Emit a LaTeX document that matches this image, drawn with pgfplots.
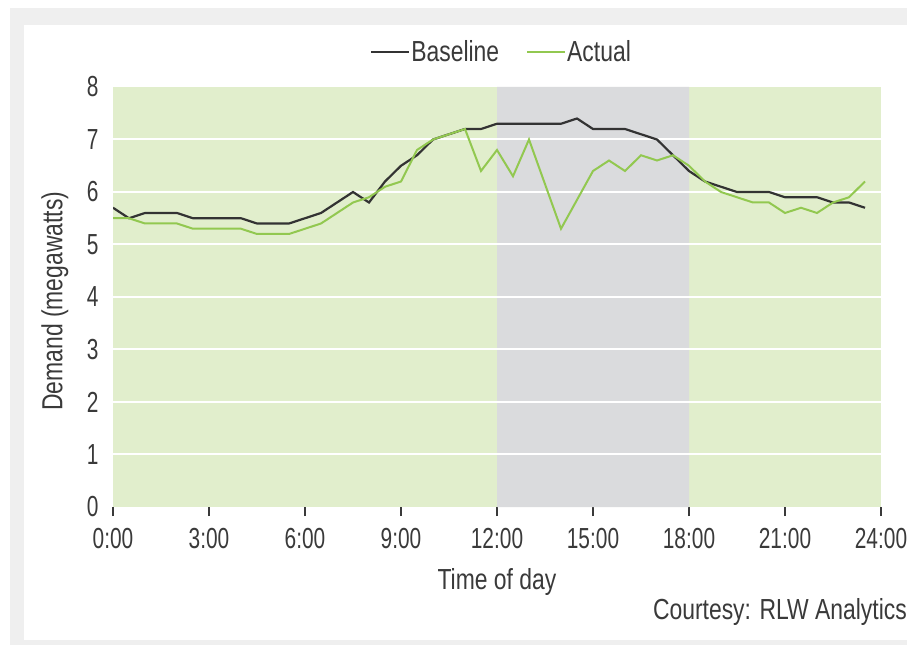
\documentclass[border=0pt]{standalone}
\usepackage{fontspec}
\setmainfont{Liberation Sans}[FakeStretch=0.79]
\newfontfamily\tickfont{Liberation Sans}[FakeStretch=0.72]
\usepackage{pgfplots}
\pgfplotsset{compat=1.18}
\definecolor{bggreen}{HTML}{E1EECC}
\definecolor{shade}{HTML}{DADBDD}
\definecolor{framegray}{HTML}{EFEFEF}
\definecolor{txt}{HTML}{3A3A3A}
\definecolor{base}{HTML}{333333}
\definecolor{act}{HTML}{92C850}
\newcommand\lbl{\fontsize{29bp}{32bp}\selectfont}

\begin{document}
\begin{tikzpicture}
\fill[white] (0bp,0bp) rectangle (907bp,645bp);
\fill[framegray] (10bp,0bp) rectangle (907bp,637bp);
\fill[white] (24bp,5bp) rectangle (907bp,620bp);
\begin{axis}[
  at={(113bp,138bp)}, anchor=south west,
  scale only axis, width=768bp, height=420bp,
  xmin=0, xmax=24, ymin=0, ymax=8,
  axis background/.style={fill=bggreen},
  axis line style={draw=none},
  tick pos=left, tick align=outside,
  major tick length=9bp,
  xtick={0,3,...,24},
  xticklabels={0:00,3:00,6:00,9:00,12:00,15:00,18:00,21:00,24:00},
  ytick={0,1,...,8},
  yticklabels={0,1,2,3,4,5,6,7,8},
  xtick style={draw=txt, line width=1.3bp},
  ytick style={draw=none},
  every tick label/.append style={font=\tickfont\lbl, text=txt},
  xticklabel style={yshift=-9bp},
  yticklabel style={xshift=-2bp},
  xlabel={Time of day},
  ylabel={Demand (megawatts)},
  every axis label/.append style={font=\lbl, text=txt},
  xlabel style={at={(axis description cs:0.5,0)}, anchor=center, yshift=-75bp},
  ylabel style={at={(axis description cs:0,0.49)}, anchor=center, yshift=58bp},
  legend style={at={(0.5,1)}, anchor=center, yshift=35bp, xshift=4bp,
    draw=none, fill=none, font=\lbl, text=txt, legend columns=2,
    /tikz/every even column/.append style={column sep=26bp},
    nodes={inner xsep=1bp, inner ysep=0bp}},
  legend image code/.code={\draw[#1] (0bp,0bp) -- (38bp,0bp);},
]
% peak window 12:00-18:00
\addplot[forget plot, fill=shade, draw=none]
  coordinates {(12,0) (12,8) (18,8) (18,0)} \closedcycle;
% white grid lines over the shading
\addplot[forget plot, white, line width=2bp] coordinates {(0,1) (24,1)};
\addplot[forget plot, white, line width=2bp] coordinates {(0,2) (24,2)};
\addplot[forget plot, white, line width=2bp] coordinates {(0,3) (24,3)};
\addplot[forget plot, white, line width=2bp] coordinates {(0,4) (24,4)};
\addplot[forget plot, white, line width=2bp] coordinates {(0,5) (24,5)};
\addplot[forget plot, white, line width=2bp] coordinates {(0,6) (24,6)};
\addplot[forget plot, white, line width=2bp] coordinates {(0,7) (24,7)};

\addplot[base, line width=2.2bp] coordinates {
  (0,5.7) (0.5,5.5) (1,5.6) (1.5,5.6) (2,5.6) (2.5,5.5) (3,5.5) (3.5,5.5)
  (4,5.5) (4.5,5.4) (5,5.4) (5.5,5.4) (6,5.5) (6.5,5.6) (7,5.8) (7.5,6.0)
  (8,5.8) (8.5,6.2) (9,6.5) (9.5,6.7) (10,7.0) (10.5,7.1) (11,7.2) (11.5,7.2)
  (12,7.3) (12.5,7.3) (13,7.3) (13.5,7.3) (14,7.3) (14.5,7.4) (15,7.2) (15.5,7.2)
  (16,7.2) (16.5,7.1) (17,7.0) (17.5,6.7) (18,6.4) (18.5,6.2) (19,6.1) (19.5,6.0)
  (20,6.0) (20.5,6.0) (21,5.9) (21.5,5.9) (22,5.9) (22.5,5.8) (23,5.8) (23.5,5.7)
};
\addlegendentry{Baseline}
\addplot[act, line width=2bp] coordinates {
  (0,5.5) (0.5,5.5) (1,5.4) (1.5,5.4) (2,5.4) (2.5,5.3) (3,5.3) (3.5,5.3)
  (4,5.3) (4.5,5.2) (5,5.2) (5.5,5.2) (6,5.3) (6.5,5.4) (7,5.6) (7.5,5.8)
  (8,5.9) (8.5,6.1) (9,6.2) (9.5,6.8) (10,7.0) (10.5,7.1) (11,7.2) (11.5,6.4)
  (12,6.8) (12.5,6.3) (13,7.0) (13.5,6.15) (14,5.3) (14.5,5.85) (15,6.4) (15.5,6.6)
  (16,6.4) (16.5,6.7) (17,6.6) (17.5,6.7) (18,6.5) (18.5,6.2) (19,6.0) (19.5,5.9)
  (20,5.8) (20.5,5.8) (21,5.6) (21.5,5.7) (22,5.6) (22.5,5.8) (23,5.9) (23.5,6.2)
};
\addlegendentry{Actual}
\end{axis}
\node[anchor=east, inner sep=0pt, font=\lbl, text=txt] at (907bp,33bp) {Courtesy: RLW Analytics};
\pgfresetboundingbox
\path (0bp,0bp) rectangle (907bp,645bp);
\end{tikzpicture}
\end{document}
